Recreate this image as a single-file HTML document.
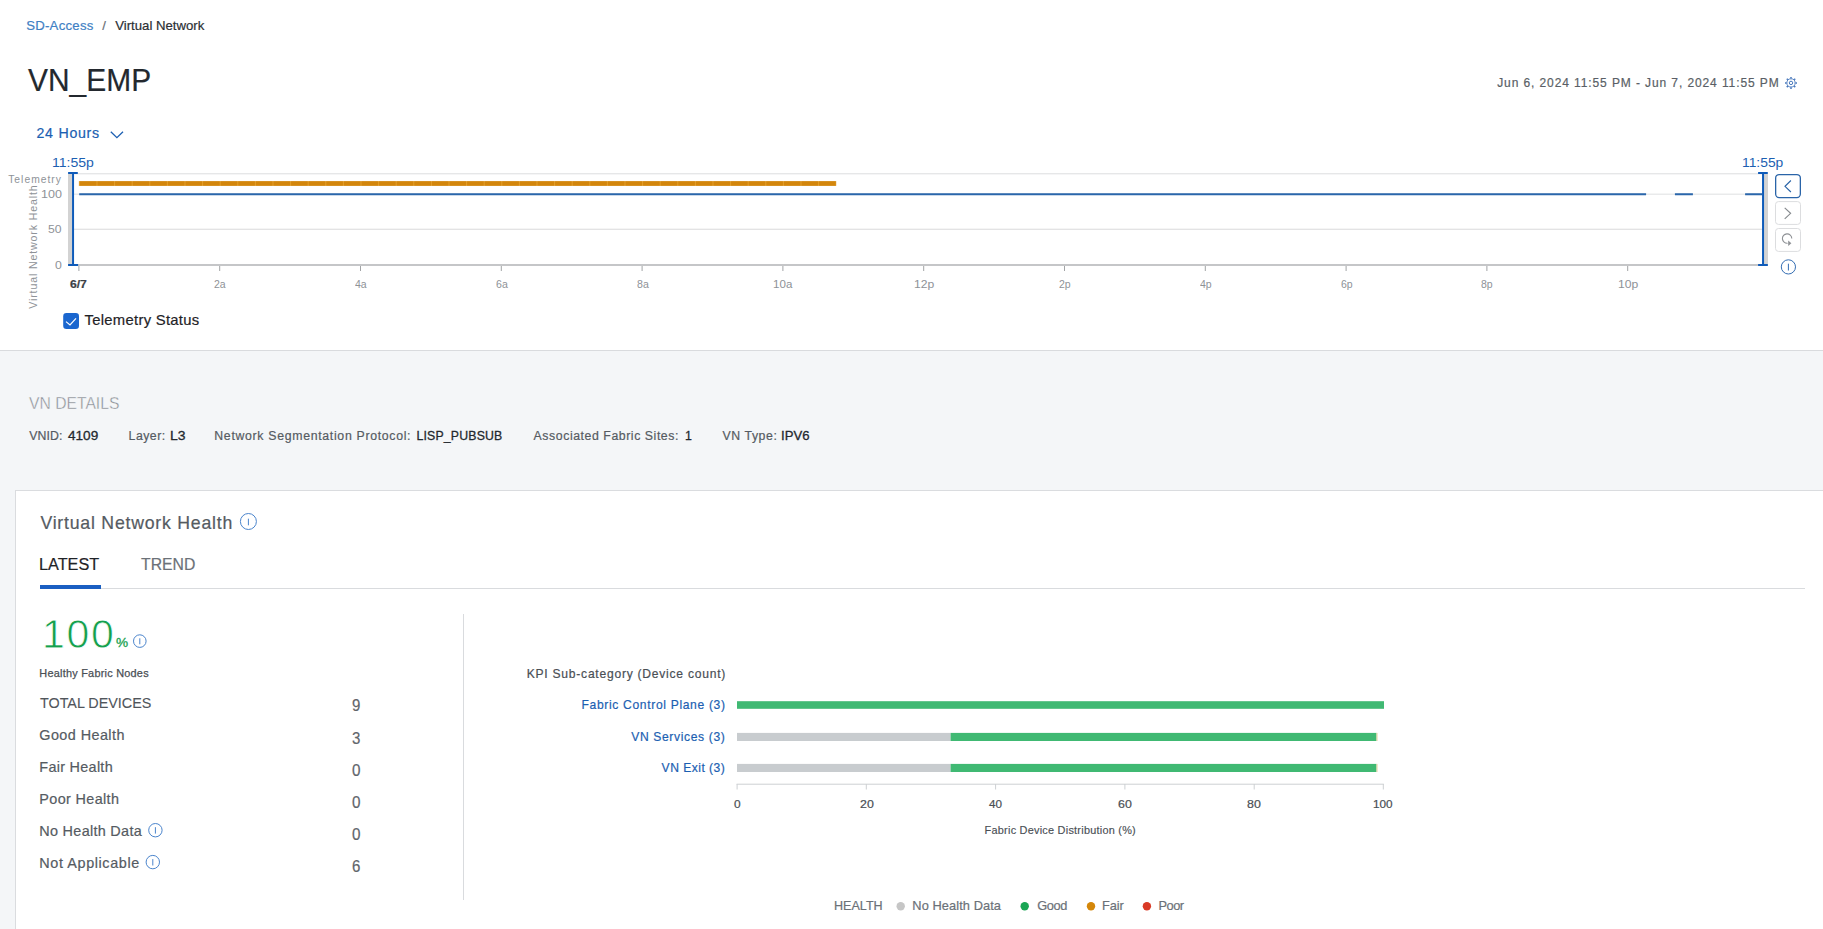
<!DOCTYPE html>
<html lang="en">
<head>
<meta charset="utf-8">
<title>VN_EMP - Virtual Network</title>
<style>
*{box-sizing:border-box;margin:0;padding:0}
html,body{width:1823px;height:929px;overflow:hidden;background:#fff}
body{font-family:"Liberation Sans",sans-serif;color:#3b4046;position:relative}
.t{position:absolute;white-space:pre;line-height:1;-webkit-text-stroke:.2px}
.b{position:absolute}
svg{position:absolute;left:0;top:0;overflow:visible}
#top{left:0;top:0;width:1823px;height:351px;background:#fff;border-bottom:1px solid #d9dbde}
#gray{left:0;top:351px;width:1823px;height:578px;background:#f4f6f8}
#card{left:15px;top:490px;width:1810px;height:445px;background:#fff;border:1px solid #dadcdf}
</style>
</head>
<body>

<div class="b" id="top"></div>
<div class="b" id="gray"></div>
<div class="b" id="card"></div>

<!-- top svg: gear, chevron, timeline chart -->
<svg width="1823" height="351" viewBox="0 0 1823 351">
  <defs>
    <pattern id="seg" x="78.9" y="0" width="17.6" height="10" patternUnits="userSpaceOnUse">
      <rect x="0" y="0" width="17.6" height="10" fill="#d3860c"/>
      <rect x="0" y="0" width="0.9" height="10" fill="#e5a02c"/>
    </pattern>
  </defs>
  <circle cx="1791" cy="82.900" r="4.100" fill="none" stroke="#4878bc" stroke-width="0.900"/>
  <path d="M1795.40 82.90L1797.00 82.90M1794.11 86.01L1795.24 87.14M1791.00 87.30L1791.00 88.90M1787.89 86.01L1786.76 87.14M1786.60 82.90L1785.00 82.90M1787.89 79.79L1786.76 78.66M1791.00 78.50L1791.00 76.90M1794.11 79.79L1795.24 78.66" fill="none" stroke="#4878bc" stroke-width="1.500"/>
  <circle cx="1791" cy="82.900" r="1.700" fill="none" stroke="#4878bc" stroke-width="1"/>
  <path d="M110.800 131.800L116.900 137.600L123 131.800" fill="none" stroke="#1c5fb2" stroke-width="1.300"/>

  <!-- grid -->
  <rect x="74" y="173" width="1688" height="1.400" fill="#e6e7e8"/>
  <rect x="74" y="193.600" width="1688" height="1.200" fill="#e4e5e6"/>
  <rect x="74" y="228.700" width="1688" height="1.100" fill="#dcddde"/>
  <rect x="68" y="264" width="1700" height="2" fill="#c5c6c8"/>
  <rect x="68" y="174" width="4" height="90" fill="#d3d3d3"/>
  <rect x="1764" y="174" width="4" height="90" fill="#d3d3d3"/>
  <!-- telemetry status -->
  <rect x="78.900" y="181.100" width="757.300" height="4.800" fill="url(#seg)"/>
  <!-- health line -->
  <path d="M79.200 194.200H1646.100M1674.900 194.200H1692.900M1745.100 194.200H1762" stroke="#2a66ab" stroke-width="1.900" fill="none"/>
  <!-- range handles -->
  <path d="M73.050 173V266M68.100 173.050H77.800M68.100 265H78.100" stroke="#0f5bb9" stroke-width="2" fill="none"/>
  <path d="M1763.050 173V266M1758.100 173.050H1767.800M1758.100 265H1767.800" stroke="#0f5bb9" stroke-width="2" fill="none"/>
  <!-- ticks -->
  <path d="M78.900 266v5M219.700 266v5M360.500 266v5M501.300 266v5M642.100 266v5M782.900 266v5M923.700 266v5M1064.500 266v5M1205.300 266v5M1346.100 266v5M1486.900 266v5M1627.700 266v5" stroke="#a2a4a6" stroke-width="1" fill="none"/>
  <text transform="translate(36.900,308.800) rotate(-90)" font-family="Liberation Sans, sans-serif" font-size="10.600" fill="#8e9297" letter-spacing=".87">Virtual Network Health</text>

  <!-- nav buttons -->
  <rect x="1775.650" y="174.550" width="24.700" height="23" rx="3.500" fill="#fff" stroke="#2a64a8" stroke-width="1.300"/>
  <rect x="1775.500" y="201.600" width="25" height="22.800" rx="3" fill="#fff" stroke="#dcdddf" stroke-width="1"/>
  <rect x="1775.500" y="228.500" width="25" height="22.900" rx="3" fill="#fff" stroke="#dcdddf" stroke-width="1"/>
  <path d="M1790.900 180.500L1785 186.300L1790.900 192" fill="none" stroke="#2a64a8" stroke-width="1.150"/>
  <path d="M1784.700 207.800L1790.600 213.300L1784.700 218.800" fill="none" stroke="#85898d" stroke-width="1.150"/>
  <path d="M1791.800 238.400A4.700 4.700 0 1 0 1787.600 243.200" fill="none" stroke="#8e9195" stroke-width="1.100"/>
  <path d="M1788.200 240.400L1791.400 243.200L1788.200 245.900Z" fill="#8e9195"/>
  <circle cx="1788.400" cy="266.900" r="7.100" fill="none" stroke="#336db3" stroke-width="1"/>
  <path d="M1788.400 263.700V270.500" fill="none" stroke="#336db3" stroke-width="1"/>

  <!-- checkbox -->
  <rect x="63.200" y="313.100" width="15.800" height="15.800" rx="3.200" fill="#1a66cf"/>
  <path d="M66 321.600L70 325L76 318.300" fill="none" stroke="#fff" stroke-width="1.200"/>
</svg>

<!-- card: tabs, divider -->
<div class="b" style="left:40px;top:588px;width:1765px;height:1px;background:#d9dbde"></div>
<div class="b" style="left:40px;top:585px;width:61px;height:4px;background:#1a5fc2"></div>
<div class="b" style="left:463px;top:614px;width:1px;height:286px;background:#d9dbde"></div>

<svg width="1823" height="929" viewBox="0 0 1823 929">
  <g fill="none" stroke="#4a84cc" stroke-width="1">
    <circle cx="248.400" cy="521.500" r="8"/><path d="M248.400 518.700V525.300"/>
    <circle cx="139.800" cy="641.100" r="6.300"/><path d="M139.800 638.300V644.300"/>
    <circle cx="155.400" cy="830.200" r="6.700"/><path d="M155.400 827.200V833.600"/>
    <circle cx="152.800" cy="862.100" r="6.700"/><path d="M152.800 859.100V865.500"/>
  </g>
  <!-- bars -->
  <rect x="737" y="701.200" width="647" height="7.600" fill="#40b973"/>
  <rect x="737" y="732.900" width="213.600" height="8.100" fill="#c8cccf"/>
  <rect x="950.600" y="732.900" width="425.900" height="8.100" fill="#40b973"/>
  <rect x="1376.500" y="732.900" width="1" height="8.100" fill="#e3cf9a"/>
  <rect x="737" y="763.900" width="213.600" height="8.100" fill="#c8cccf"/>
  <rect x="950.600" y="763.900" width="425.900" height="8.100" fill="#40b973"/>
  <rect x="1376.500" y="763.900" width="1" height="8.100" fill="#e3cf9a"/>
  <path d="M736.600 784.200H1383.800M737.100 784v5.500M866.300 784v5.500M995.600 784v5.500M1124.900 784v5.500M1254.200 784v5.500M1383.300 784v5.500" fill="none" stroke="#cdd0d3" stroke-width="1"/>
  <!-- legend dots -->
  <circle cx="900.700" cy="906.300" r="4.200" fill="#c6c6c6"/>
  <circle cx="1024.700" cy="906.300" r="4.200" fill="#1aa654"/>
  <circle cx="1091" cy="906.300" r="4.200" fill="#d4870a"/>
  <circle cx="1146.900" cy="906.300" r="4.200" fill="#d93a26"/>
</svg>

<div class="t" id="bc1" style="left:26.20px;top:18.93px;font-size:13.2px;color:#4080c4;letter-spacing:0.237px">SD-Access</div>
<div class="t" id="bc2" style="left:102.20px;top:18.93px;font-size:13.2px;color:#6a6f75;letter-spacing:0.000px">/</div>
<div class="t" id="bc3" style="left:115.20px;top:18.93px;font-size:13.2px;color:#2b2f33;letter-spacing:-0.000px">Virtual Network</div>
<div class="t" id="title" style="left:27.60px;top:65.10px;font-size:30.6px;color:#23282e;transform-origin:0 0;transform:scaleX(0.9784)">VN_EMP</div>
<div class="t" id="date" style="left:1497.20px;top:76.64px;font-size:12px;color:#5a5f66;letter-spacing:0.900px">Jun 6, 2024 11:55 PM - Jun 7, 2024 11:55 PM</div>
<div class="t" id="h24" style="left:36.50px;top:125.68px;font-size:14.2px;color:#1c5fb2;letter-spacing:0.729px">24 Hours</div>
<div class="t" id="tl" style="left:51.90px;top:156.64px;font-size:12px;color:#1c5fb2;transform-origin:0 0;transform:scaleX(1.1709);-webkit-text-stroke:0">11:55p</div>
<div class="t" id="tr" style="left:1741.90px;top:156.64px;font-size:12px;color:#1c5fb2;transform-origin:0 0;transform:scaleX(1.1537);-webkit-text-stroke:0">11:55p</div>
<div class="t" id="ytel" style="left:8.20px;top:174.98px;font-size:10.3px;color:#8e9297;letter-spacing:1.013px;-webkit-text-stroke:0">Telemetry</div>
<div class="t" id="y100" style="left:40.70px;top:189.98px;font-size:10.3px;color:#8e9297;transform-origin:0 0;transform:scaleX(1.2174);-webkit-text-stroke:0">100</div>
<div class="t" id="y50" style="left:47.90px;top:224.78px;font-size:10.3px;color:#8e9297;transform-origin:0 0;transform:scaleX(1.1818);-webkit-text-stroke:0">50</div>
<div class="t" id="y0" style="left:54.60px;top:260.88px;font-size:10.3px;color:#8e9297;transform-origin:0 0;transform:scaleX(1.1907);-webkit-text-stroke:0">0</div>
<div class="t" id="x0" style="left:69.70px;top:280.00px;font-size:10.4px;color:#3b4046;transform-origin:0 0;transform:scaleX(1.1672);font-weight:bold">6/7</div>
<div class="t" id="chk" style="left:84.50px;top:312.97px;font-size:14.8px;color:#1f2327;letter-spacing:0.300px">Telemetry Status</div>
<div class="t thin" id="vnd" style="left:29.20px;top:395.22px;font-size:16.4px;color:#868b92;transform-origin:0 0;transform:scaleX(0.9574);-webkit-text-stroke:.4px #f4f6f8">VN DETAILS</div>
<div class="t" id="d1a" style="left:29.20px;top:429.69px;font-size:12.3px;color:#555b62;letter-spacing:0.125px">VNID:</div>
<div class="t" id="d1b" style="left:68.30px;top:429.69px;font-size:12.3px;color:#23282e;transform-origin:0 0;transform:scaleX(1.1041);-webkit-text-stroke:.28px #23282e">4109</div>
<div class="t" id="d2a" style="left:128.60px;top:429.69px;font-size:12.3px;color:#555b62;letter-spacing:0.480px">Layer:</div>
<div class="t" id="d2b" style="left:169.70px;top:429.69px;font-size:12.3px;color:#23282e;transform-origin:0 0;transform:scaleX(1.1351);-webkit-text-stroke:.28px #23282e">L3</div>
<div class="t" id="d3a" style="left:214.30px;top:429.69px;font-size:12.3px;color:#555b62;letter-spacing:0.686px">Network Segmentation Protocol:</div>
<div class="t" id="d3b" style="left:416.50px;top:429.69px;font-size:12.3px;color:#23282e;letter-spacing:0.170px;-webkit-text-stroke:.28px #23282e">LISP_PUBSUB</div>
<div class="t" id="d4a" style="left:533.60px;top:429.69px;font-size:12.3px;color:#555b62;letter-spacing:0.561px">Associated Fabric Sites:</div>
<div class="t" id="d4b" style="left:685.00px;top:429.69px;font-size:12.3px;color:#23282e;letter-spacing:0.000px;-webkit-text-stroke:.28px #23282e">1</div>
<div class="t" id="d5a" style="left:722.50px;top:429.69px;font-size:12.3px;color:#555b62;letter-spacing:0.571px">VN Type:</div>
<div class="t" id="d5b" style="left:780.60px;top:429.69px;font-size:12.3px;color:#23282e;transform-origin:0 0;transform:scaleX(1.0665);-webkit-text-stroke:.28px #23282e">IPV6</div>
<div class="t" id="vnh" style="left:40.40px;top:514.92px;font-size:17.7px;color:#555b62;letter-spacing:0.776px">Virtual Network Health</div>
<div class="t" id="tab1" style="left:39.40px;top:556.20px;font-size:16.3px;color:#1f2327;transform-origin:0 0;transform:scaleX(0.9984)">LATEST</div>
<div class="t" id="tab2" style="left:141.20px;top:556.20px;font-size:16.3px;color:#6b7178;transform-origin:0 0;transform:scaleX(0.9680)">TREND</div>
<div class="t thin" id="score" style="left:41.90px;top:613.79px;font-size:41px;color:#15a04d;letter-spacing:1.700px;-webkit-text-stroke:.8px #fff">100</div>
<div class="t" id="pct" style="left:115.90px;top:635.69px;font-size:13.6px;color:#15a04d;letter-spacing:0.000px;-webkit-text-stroke:.3px">%</div>
<div class="t" id="hfn" style="left:39.30px;top:667.67px;font-size:10.9px;color:#4a4f55;letter-spacing:0.242px;-webkit-text-stroke:.25px #4a4f55">Healthy Fabric Nodes</div>
<div class="t" id="r0" style="left:40.30px;top:696.46px;font-size:14.7px;color:#50555b;transform-origin:0 0;transform:scaleX(0.9763);-webkit-text-stroke:.1px">TOTAL DEVICES</div>
<div class="t" id="r1" style="left:39.30px;top:727.61px;font-size:14.4px;color:#555b62;letter-spacing:0.430px">Good Health</div>
<div class="t" id="r2" style="left:39.30px;top:759.51px;font-size:14.4px;color:#555b62;letter-spacing:0.300px">Fair Health</div>
<div class="t" id="r3" style="left:39.30px;top:791.71px;font-size:14.4px;color:#555b62;letter-spacing:0.370px">Poor Health</div>
<div class="t" id="r4" style="left:39.30px;top:823.61px;font-size:14.4px;color:#555b62;letter-spacing:0.308px">No Health Data</div>
<div class="t" id="r5" style="left:39.30px;top:856.41px;font-size:14.4px;color:#555b62;letter-spacing:0.608px">Not Applicable</div>
<div class="t" id="n0" style="left:352.20px;top:698.09px;font-size:15.6px;color:#5f656b;transform-origin:0 0;transform:scaleX(0.9630)">9</div>
<div class="t" id="n1" style="left:352.20px;top:730.99px;font-size:15.6px;color:#5f656b;transform-origin:0 0;transform:scaleX(0.9630)">3</div>
<div class="t" id="n2" style="left:352.20px;top:762.99px;font-size:15.6px;color:#5f656b;transform-origin:0 0;transform:scaleX(0.9783)">0</div>
<div class="t" id="n3" style="left:352.20px;top:794.99px;font-size:15.6px;color:#5f656b;transform-origin:0 0;transform:scaleX(0.9783)">0</div>
<div class="t" id="n4" style="left:352.20px;top:826.99px;font-size:15.6px;color:#5f656b;transform-origin:0 0;transform:scaleX(0.9783)">0</div>
<div class="t" id="n5" style="left:352.20px;top:859.09px;font-size:15.6px;color:#5f656b;transform-origin:0 0;transform:scaleX(0.9630)">6</div>
<div class="t" id="kpi" style="left:526.70px;top:667.66px;font-size:12.1px;color:#4a4f55;letter-spacing:0.750px">KPI Sub-category (Device count)</div>
<div class="t" id="k1" style="left:581.50px;top:698.56px;font-size:12.1px;color:#1c5fb2;letter-spacing:0.657px">Fabric Control Plane (3)</div>
<div class="t" id="k2" style="left:631.20px;top:730.66px;font-size:12.1px;color:#1c5fb2;letter-spacing:0.643px">VN Services (3)</div>
<div class="t" id="k3" style="left:661.60px;top:761.76px;font-size:12.1px;color:#1c5fb2;letter-spacing:0.480px">VN Exit (3)</div>
<div class="t" id="a0" style="left:733.80px;top:798.86px;font-size:10.8px;color:#4a4f55;transform-origin:0 0;transform:scaleX(1.1034)">0</div>
<div class="t" id="a20" style="left:859.50px;top:798.86px;font-size:10.8px;color:#4a4f55;transform-origin:0 0;transform:scaleX(1.1488)">20</div>
<div class="t" id="a40" style="left:988.50px;top:798.86px;font-size:10.8px;color:#4a4f55;transform-origin:0 0;transform:scaleX(1.0833)">40</div>
<div class="t" id="a60" style="left:1118.40px;top:798.86px;font-size:10.8px;color:#4a4f55;transform-origin:0 0;transform:scaleX(1.1488)">60</div>
<div class="t" id="a80" style="left:1247.40px;top:798.86px;font-size:10.8px;color:#4a4f55;transform-origin:0 0;transform:scaleX(1.1488)">80</div>
<div class="t" id="a100" style="left:1372.60px;top:798.86px;font-size:10.8px;color:#4a4f55;transform-origin:0 0;transform:scaleX(1.0872)">100</div>
<div class="t" id="fdd" style="left:984.60px;top:824.67px;font-size:10.9px;color:#4a4f55;letter-spacing:0.245px;-webkit-text-stroke:.15px #4a4f55">Fabric Device Distribution (%)</div>
<div class="t" id="lg0" style="left:834.40px;top:900.16px;font-size:12.8px;color:#6b7178;transform-origin:0 0;transform:scaleX(0.9814)">HEALTH</div>
<div class="t" id="lg1" style="left:912.30px;top:900.16px;font-size:12.8px;color:#6b7178;letter-spacing:0.092px">No Health Data</div>
<div class="t" id="lg2" style="left:1037.20px;top:900.16px;font-size:12.8px;color:#6b7178;letter-spacing:-0.367px">Good</div>
<div class="t" id="lg3" style="left:1102.00px;top:900.16px;font-size:12.8px;color:#6b7178;letter-spacing:-0.100px">Fair</div>
<div class="t" id="lg4" style="left:1158.40px;top:900.16px;font-size:12.8px;color:#6b7178;letter-spacing:-0.433px">Poor</div>
<div class="t" id="x1" style="left:214.25px;top:280.10px;font-size:10.4px;color:#8e9297;transform-origin:0 0;transform:scaleX(1.0111);-webkit-text-stroke:0">2a</div>
<div class="t" id="x2" style="left:355.05px;top:280.10px;font-size:10.4px;color:#8e9297;transform-origin:0 0;transform:scaleX(1.0111);-webkit-text-stroke:0">4a</div>
<div class="t" id="x3" style="left:495.85px;top:280.10px;font-size:10.4px;color:#8e9297;transform-origin:0 0;transform:scaleX(1.0182);-webkit-text-stroke:0">6a</div>
<div class="t" id="x4" style="left:636.65px;top:280.10px;font-size:10.4px;color:#8e9297;transform-origin:0 0;transform:scaleX(1.0182);-webkit-text-stroke:0">8a</div>
<div class="t" id="x5" style="left:773.00px;top:280.10px;font-size:10.4px;color:#8e9297;transform-origin:0 0;transform:scaleX(1.1141);-webkit-text-stroke:0">10a</div>
<div class="t" id="x6" style="left:913.80px;top:280.10px;font-size:10.4px;color:#8e9297;transform-origin:0 0;transform:scaleX(1.1683);-webkit-text-stroke:0">12p</div>
<div class="t" id="x7" style="left:1059.05px;top:280.10px;font-size:10.4px;color:#8e9297;transform-origin:0 0;transform:scaleX(1.0111);-webkit-text-stroke:0">2p</div>
<div class="t" id="x8" style="left:1199.85px;top:280.10px;font-size:10.4px;color:#8e9297;transform-origin:0 0;transform:scaleX(1.0111);-webkit-text-stroke:0">4p</div>
<div class="t" id="x9" style="left:1340.65px;top:280.10px;font-size:10.4px;color:#8e9297;transform-origin:0 0;transform:scaleX(1.0111);-webkit-text-stroke:0">6p</div>
<div class="t" id="x10" style="left:1481.45px;top:280.10px;font-size:10.4px;color:#8e9297;transform-origin:0 0;transform:scaleX(1.0111);-webkit-text-stroke:0">8p</div>
<div class="t" id="x11" style="left:1617.80px;top:280.10px;font-size:10.4px;color:#8e9297;transform-origin:0 0;transform:scaleX(1.1683);-webkit-text-stroke:0">10p</div>
</body>
</html>
